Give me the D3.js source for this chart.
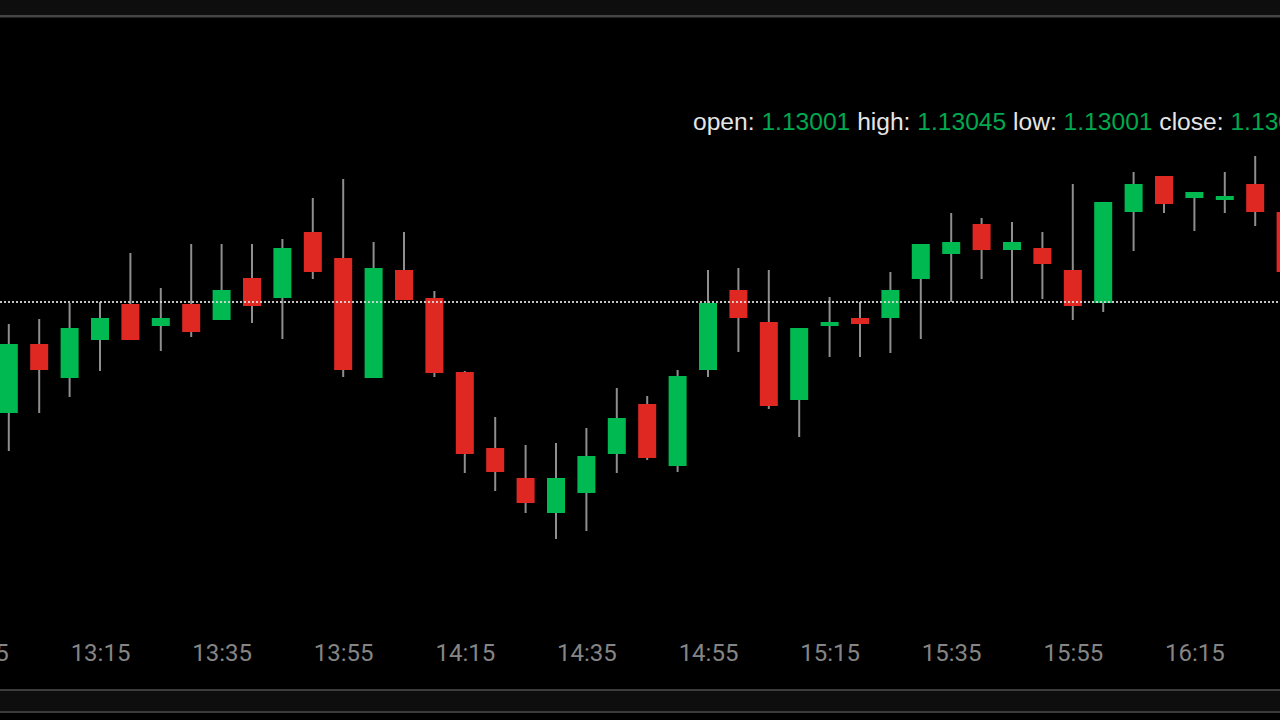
<!DOCTYPE html>
<html>
<head>
<meta charset="utf-8">
<script src="https://cdn.jsdelivr.net/npm/d3@7"></script>
<style>
html,body{margin:0;padding:0;background:#000;overflow:hidden;}
svg{display:block;}
</style>
</head>
<body>
<svg id="chart" width="1280" height="720"></svg>
<script>
const times = ["13:00","13:05","13:10","13:15","13:20","13:25","13:30","13:35","13:40","13:45","13:50","13:55",
  "14:00","14:05","14:10","14:15","14:20","14:25","14:30","14:35","14:40","14:45","14:50","14:55",
  "15:00","15:05","15:10","15:15","15:20","15:25","15:30","15:35","15:40","15:45","15:50","15:55",
  "16:00","16:05","16:10","16:15","16:20","16:25","16:30"];
const open  = [1.12890,1.12959,1.12925,1.12963,1.12999,1.12977,1.12999,1.12983,1.13025,1.13005,1.13071,1.13045,
  1.12925,1.13033,1.13005,1.12931,1.12855,1.12825,1.12790,1.12810,1.12849,1.12899,1.12837,1.12933,
  1.13013,1.12981,1.12903,1.12977,1.12985,1.12985,1.13024,1.13049,1.13079,1.13053,1.13055,1.13033,
  1.13000,1.13091,1.13127,1.13105,1.13103,1.13119,1.13091];
const high  = [1.12979,1.12984,1.13000,1.13001,1.13050,1.13015,1.13059,1.13059,1.13059,1.13064,1.13105,1.13124,
  1.13061,1.13071,1.13012,1.12932,1.12886,1.12858,1.12860,1.12875,1.12915,1.12907,1.12933,1.13033,
  1.13035,1.13033,1.12975,1.13006,1.13001,1.13031,1.13059,1.13090,1.13085,1.13081,1.13071,1.13119,
  1.13101,1.13131,1.13127,1.13111,1.13131,1.13147,1.13091];
const low   = [1.12852,1.12890,1.12906,1.12932,1.12963,1.12952,1.12966,1.12983,1.12980,1.12964,1.13024,1.12926,
  1.12925,1.13003,1.12926,1.12830,1.12812,1.12790,1.12764,1.12772,1.12830,1.12843,1.12831,1.12926,
  1.12951,1.12894,1.12866,1.12946,1.12946,1.12950,1.12964,1.13001,1.13024,1.13000,1.13004,1.12983,
  1.12991,1.13052,1.13090,1.13072,1.13090,1.13077,1.13027];
const close = [1.12959,1.12933,1.12975,1.12985,1.12963,1.12985,1.12971,1.13013,1.12997,1.13055,1.13031,1.12933,
  1.13035,1.13003,1.12930,1.12849,1.12831,1.12800,1.12825,1.12847,1.12885,1.12845,1.12927,1.13000,
  1.12985,1.12897,1.12975,1.12981,1.12979,1.13013,1.13059,1.13061,1.13053,1.13061,1.13039,1.12997,
  1.13101,1.13119,1.13099,1.13111,1.13107,1.13091,1.13031];
const tickLabels = ["12:55","13:15","13:35","13:55","14:15","14:35","14:55","15:15","15:35","15:55","16:15"];
const priceLine = 1.13001;
const infoNames = ["open: ","high: ","low: ","close: "];
const infoValues = ["1.13001","1.13045","1.13001","1.13040"];

const parse = d3.timeParse("%H:%M");
const data = times.map((t,i)=>({t:parse(t),o:open[i],h:high[i],l:low[i],c:close[i]}));

const svg = d3.select("#chart");
const W = 1280, H = 720;
svg.append("rect").attr("width",W).attr("height",H).attr("fill","#000");

// top & bottom frame bands
svg.append("rect").attr("x",0).attr("y",0).attr("width",W).attr("height",15).attr("fill","#0f0e0f");
svg.append("rect").attr("x",0).attr("y",15).attr("width",W).attr("height",2).attr("fill","#454545");
svg.append("rect").attr("x",0).attr("y",17).attr("width",W).attr("height",1).attr("fill","#222");
svg.append("rect").attr("x",0).attr("y",689).attr("width",W).attr("height",2).attr("fill","#3c3c3c");
svg.append("rect").attr("x",0).attr("y",691).attr("width",W).attr("height",20).attr("fill","#0f0e0f");
svg.append("rect").attr("x",0).attr("y",711).attr("width",W).attr("height",2).attr("fill","#3a3a3a");

const x = d3.scaleTime()
  .domain([parse("13:00"), parse("16:30")])
  .range([8.8, 1285.6]);
const y = d3.scaleLinear()
  .domain([1.12700, 1.13300])
  .range([603, 3]);

const bodyW = 18;
const green = "#00b950", red = "#e02823", wick = "#8e8e8e";

const g = svg.append("g");
g.selectAll("line.wick").data(data).enter().append("line")
  .attr("class","wick")
  .attr("x1",d=>x(d.t)).attr("x2",d=>x(d.t))
  .attr("y1",d=>y(d.h)).attr("y2",d=>y(d.l))
  .attr("stroke",wick).attr("stroke-width",2);
g.selectAll("rect.body").data(data).enter().append("rect")
  .attr("class","body")
  .attr("x",d=>x(d.t)-bodyW/2)
  .attr("width",bodyW)
  .attr("y",d=>y(Math.max(d.o,d.c)))
  .attr("height",d=>Math.max(2,Math.abs(y(d.o)-y(d.c))))
  .attr("fill",d=>d.c>=d.o?green:red);

// price line
svg.append("line")
  .attr("x1",0).attr("x2",W)
  .attr("y1",y(priceLine)).attr("y2",y(priceLine))
  .attr("stroke","#d8d8d8").attr("stroke-opacity",0.9)
  .attr("stroke-width",2).attr("stroke-dasharray","2,2");

// x axis
const axis = d3.axisBottom(x)
  .tickValues(tickLabels.map(parse))
  .tickFormat(d3.timeFormat("%H:%M"))
  .tickSize(0);
const ag = svg.append("g").attr("transform","translate(0,661)").call(axis);
ag.select(".domain").remove();
ag.selectAll("text")
  .attr("y",0).attr("dy",null)
  .attr("fill","#858585")
  .attr("font-family","Roboto, sans-serif")
  .attr("font-size",24);

// info label
const info = svg.append("text")
  .attr("x",693).attr("y",130)
  .attr("font-family","'Liberation Sans', Arial, sans-serif")
  .attr("font-size",24.6);
infoNames.forEach((n,i)=>{
  info.append("tspan").attr("fill","#e6e6e6").text(n);
  info.append("tspan").attr("fill","#00a84e").text(infoValues[i] + (i<infoNames.length-1?" ":""));
});
</script>
</body>
</html>
